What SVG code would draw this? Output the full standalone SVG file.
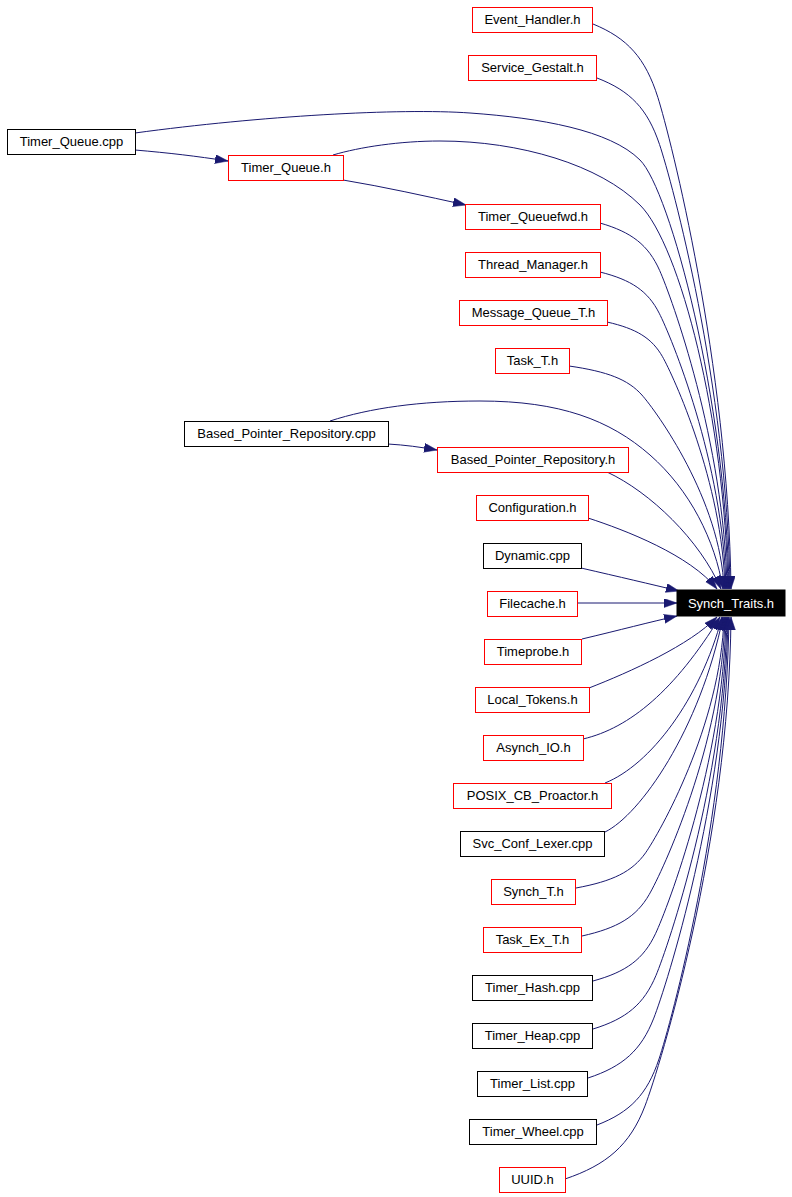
<svg xmlns="http://www.w3.org/2000/svg" width="792" height="1197" viewBox="0 0 792 1197">
<style>
.r{fill:#fff;stroke:#f00;stroke-width:1}
.k{fill:#fff;stroke:#000;stroke-width:1}
.b{fill:#000;stroke:#000;stroke-width:1}
text{font-family:"Liberation Sans",Arial,sans-serif;font-size:13px;text-anchor:middle;fill:#000}
.w{fill:#fff}
.e{fill:none;stroke:#191970;stroke-width:1;marker-end:url(#ah)}
</style>
<defs>
<marker id="ah" markerWidth="14" markerHeight="10" refX="13" refY="4.5" orient="auto" markerUnits="userSpaceOnUse">
<path d="M0,0 L13,4.5 L0,9 z" fill="#191970" stroke="#191970" stroke-width="0.5"/>
</marker>
</defs>
<rect width="792" height="1197" fill="#fff"/>
<g id="edges">
<path class="e" d="M593,24 C627.5,38.1 645.4,57.9 657.9,97.5 C670.3,137 728.2,363 731,589"/>
<path class="e" d="M597,78 C630.3,90.8 647.5,108.7 659.5,144.4 C671.5,180.2 727.3,384.6 730,589"/>
<path class="e" d="M135,133 C260,116 400,108 470,113 C540,118 610,130 640,160 C670,190 726,400 729,589"/>
<path class="e" d="M135,150 C170,153 195,156 228,161"/>
<path class="e" d="M333,155 C360,147 400,141 440,141 C520,141 600,165 640,205 C680,245 725,420 728,589"/>
<path class="e" d="M343,180 C385,187 425,196 466,205"/>
<path class="e" d="M600,223 C631.8,232.2 648.3,245 659.7,270.6 C671.1,296.2 724.5,442.6 727,589"/>
<path class="e" d="M600,272 C631.5,279.9 647.9,291 659.2,313.2 C670.6,335.4 723.5,462.2 726,589"/>
<path class="e" d="M607,322 C636.5,328.7 651.8,338 662.5,356.7 C673.1,375.4 722.6,482.2 725,589"/>
<path class="e" d="M569,366 C607.8,371.6 627.9,379.4 641.9,395 C655.8,410.6 720.9,499.8 724,589"/>
<path class="e" d="M330,421 C370,408 420,401 480,401 C560,401 610,420 650,455 C690,490 715,540 723,589"/>
<path class="e" d="M388,444 C405,445 420,447 437,450"/>
<path class="e" d="M607,472 C650,492 700,540 721,589"/>
<path class="e" d="M588,518 C625,530 690,555 717,589"/>
<path class="e" d="M581,568 C620,577 650,584 679,591"/>
<path class="e" d="M577,603 L677,603"/>
<path class="e" d="M582,639 C620,630 650,622 677,616"/>
<path class="e" d="M589,688 C630,672 690,645 717,617"/>
<path class="e" d="M583,739 C630,728 675,690 720,617"/>
<path class="e" d="M605,783 C650,765 700,700 722,617"/>
<path class="e" d="M605,832 C640,815 700,730 723,617"/>
<path class="e" d="M576,888 C613,881.2 632.2,871.7 645.6,852.8 C658.9,833.8 721,725.4 724,617"/>
<path class="e" d="M582,936 C617.8,928 636.3,916.9 649.2,894.5 C662.1,872.2 722.1,744.6 725,617"/>
<path class="e" d="M593,981 C626.3,971.9 643.5,959.2 655.5,933.7 C667.5,908.2 723.3,762.6 726,617"/>
<path class="e" d="M593,1029 C626.5,1018.7 643.9,1004.3 656,975.4 C668,946.6 724.3,781.8 727,617"/>
<path class="e" d="M588,1078 C623,1066.5 641.2,1050.3 653.8,1018.1 C666.4,985.8 725.2,801.4 728,617"/>
<path class="e" d="M597,1125 C630,1112.3 647.2,1094.5 659,1059 C670.9,1023.4 726.4,820.2 729,617"/>
<path class="e" d="M565,1179 C606.5,1165 630,1145.3 645,1105.9 C660,1066.6 729,841.8 731,617"/>
</g>
<g id="n_event_handler"><rect class="r" x="472.5" y="7.5" width="120" height="25"/><text x="532.5" y="24">Event_Handler.h</text></g>
<g id="n_service_gestalt"><rect class="r" x="468.5" y="55.5" width="128" height="25"/><text x="532.5" y="72">Service_Gestalt.h</text></g>
<g id="n_timer_queue_cpp"><rect class="k" x="7.5" y="129.5" width="128" height="25"/><text x="71.5" y="146">Timer_Queue.cpp</text></g>
<g id="n_timer_queue_h"><rect class="r" x="228.5" y="155.5" width="115" height="25"/><text x="286" y="172">Timer_Queue.h</text></g>
<g id="n_timer_queuefwd"><rect class="r" x="465.5" y="204.5" width="135" height="25"/><text x="533" y="221">Timer_Queuefwd.h</text></g>
<g id="n_thread_manager"><rect class="r" x="465.5" y="252.5" width="135" height="25"/><text x="533" y="269">Thread_Manager.h</text></g>
<g id="n_message_queue_t"><rect class="r" x="459.5" y="300.5" width="148" height="25"/><text x="533.5" y="317">Message_Queue_T.h</text></g>
<g id="n_task_t"><rect class="r" x="495.5" y="348.5" width="74" height="25"/><text x="532.5" y="365">Task_T.h</text></g>
<g id="n_bpr_cpp"><rect class="k" x="184.5" y="421.5" width="204" height="25"/><text x="286.5" y="438">Based_Pointer_Repository.cpp</text></g>
<g id="n_bpr_h"><rect class="r" x="437.5" y="447.5" width="191" height="25"/><text x="533" y="464">Based_Pointer_Repository.h</text></g>
<g id="n_configuration"><rect class="r" x="476.5" y="495.5" width="112" height="25"/><text x="532.5" y="512">Configuration.h</text></g>
<g id="n_dynamic"><rect class="k" x="483.5" y="543.5" width="98" height="25"/><text x="532.5" y="560">Dynamic.cpp</text></g>
<g id="n_filecache"><rect class="r" x="487.5" y="591.5" width="90" height="25"/><text x="532.5" y="608">Filecache.h</text></g>
<g id="n_synch_traits"><rect class="b" x="677" y="590" width="108" height="26"/><text class="w" x="731" y="608">Synch_Traits.h</text></g>
<g id="n_timeprobe"><rect class="r" x="484.5" y="639.5" width="97" height="25"/><text x="533" y="656">Timeprobe.h</text></g>
<g id="n_local_tokens"><rect class="r" x="475.5" y="687.5" width="114" height="25"/><text x="532.5" y="704">Local_Tokens.h</text></g>
<g id="n_asynch_io"><rect class="r" x="483.5" y="735.5" width="100" height="25"/><text x="533.5" y="752">Asynch_IO.h</text></g>
<g id="n_posix_cb_proactor"><rect class="r" x="453.5" y="783.5" width="158" height="25"/><text x="532.5" y="800">POSIX_CB_Proactor.h</text></g>
<g id="n_svc_conf_lexer"><rect class="k" x="460.5" y="831.5" width="144" height="25"/><text x="532.5" y="848">Svc_Conf_Lexer.cpp</text></g>
<g id="n_synch_t"><rect class="r" x="491.5" y="879.5" width="84" height="25"/><text x="533.5" y="896">Synch_T.h</text></g>
<g id="n_task_ex_t"><rect class="r" x="483.5" y="927.5" width="98" height="25"/><text x="532.5" y="944">Task_Ex_T.h</text></g>
<g id="n_timer_hash"><rect class="k" x="472.5" y="975.5" width="120" height="25"/><text x="532.5" y="992">Timer_Hash.cpp</text></g>
<g id="n_timer_heap"><rect class="k" x="472.5" y="1023.5" width="120" height="25"/><text x="532.5" y="1040">Timer_Heap.cpp</text></g>
<g id="n_timer_list"><rect class="k" x="477.5" y="1071.5" width="110" height="25"/><text x="532.5" y="1088">Timer_List.cpp</text></g>
<g id="n_timer_wheel"><rect class="k" x="469.5" y="1119.5" width="127" height="25"/><text x="533" y="1136">Timer_Wheel.cpp</text></g>
<g id="n_uuid"><rect class="r" x="499.5" y="1167.5" width="66" height="25"/><text x="532.5" y="1184">UUID.h</text></g>
</svg>
